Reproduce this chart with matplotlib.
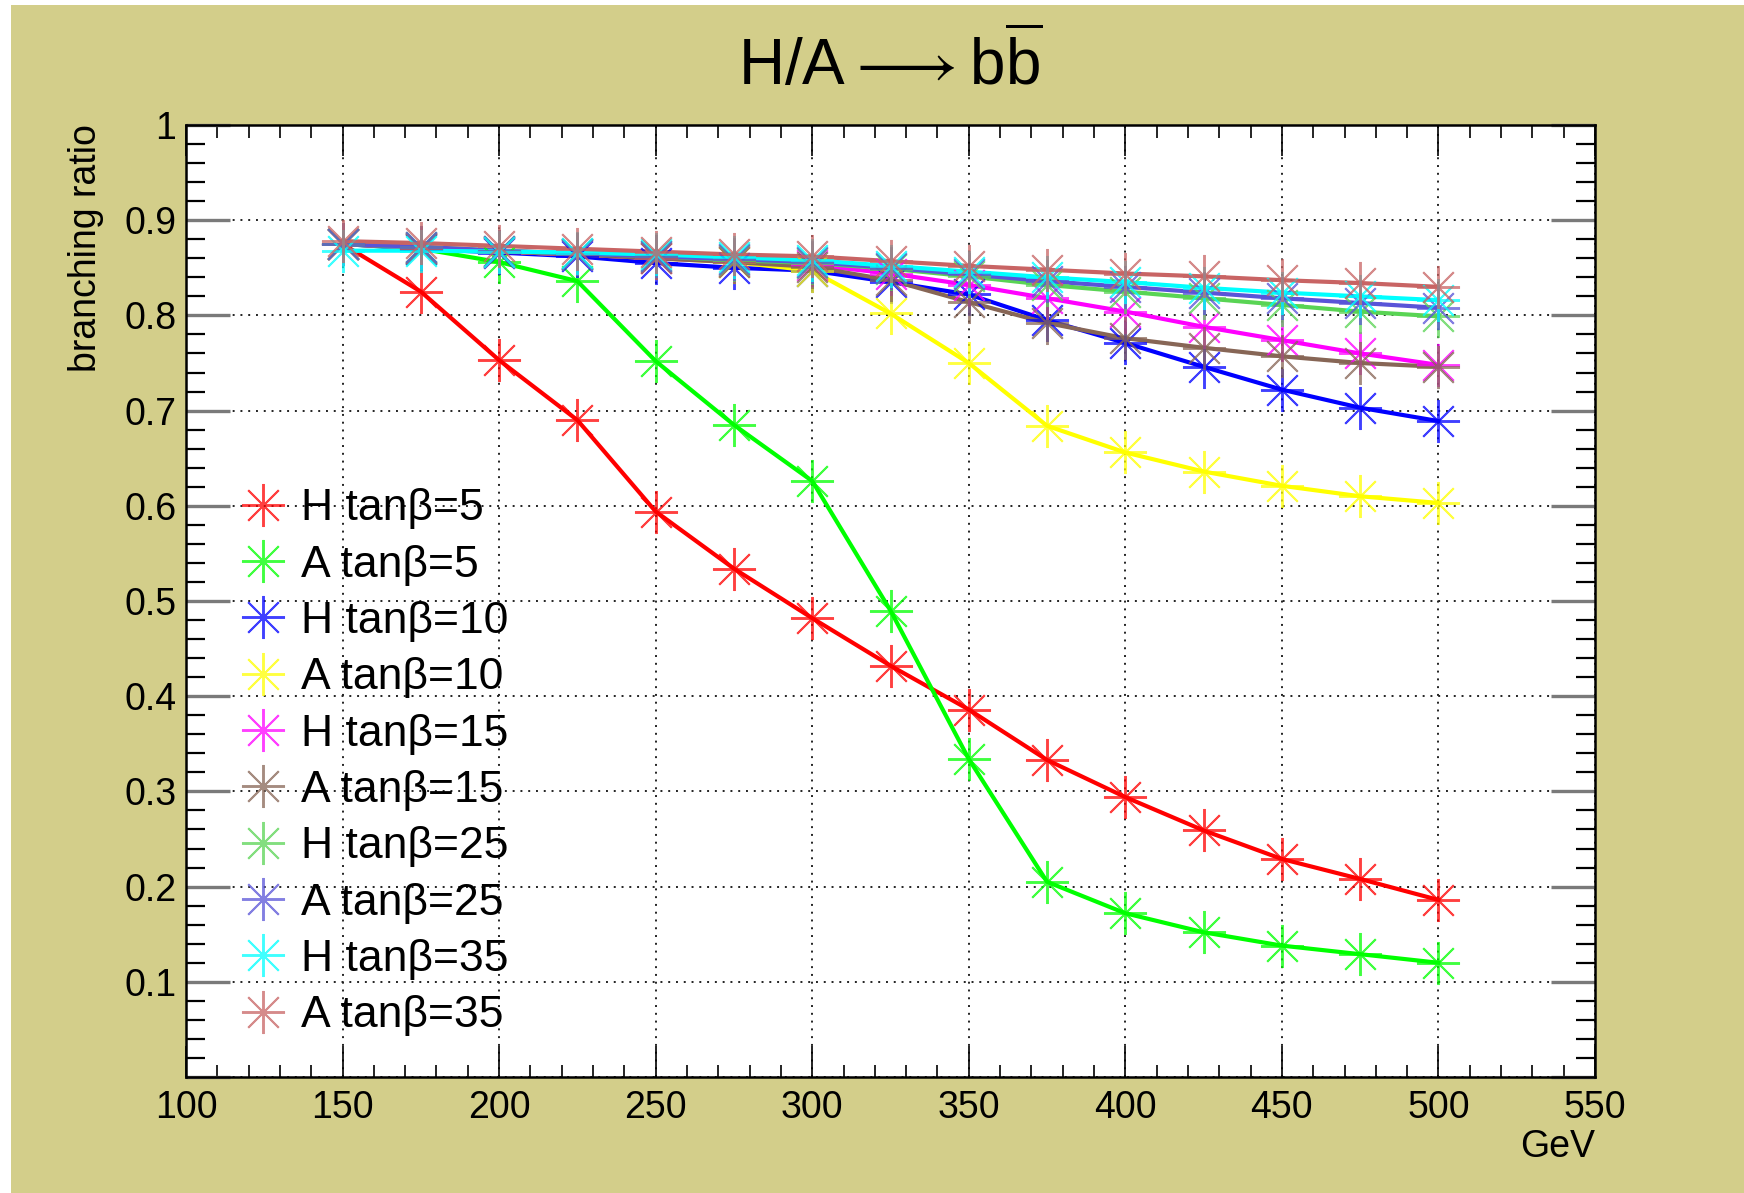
import numpy as np
import matplotlib
matplotlib.use("Agg")
import matplotlib.pyplot as plt
from matplotlib.lines import Line2D
from matplotlib.patches import Rectangle

plt.rcParams['font.family'] = ['Liberation Sans', 'DejaVu Sans']
plt.rcParams['mathtext.fontset'] = 'custom'
plt.rcParams['mathtext.rm'] = 'Liberation Sans'

# Higgs mass points (GeV)
mass = [150, 175, 200, 225, 250, 275, 300, 325, 350, 375, 400, 425, 450, 475, 500]

# branching ratios
br_H5  = [0.875, 0.825, 0.753, 0.690, 0.594, 0.534, 0.482, 0.432, 0.386, 0.333, 0.294, 0.259, 0.229, 0.208, 0.186]
br_A5  = [0.875, 0.870, 0.856, 0.836, 0.752, 0.685, 0.626, 0.490, 0.334, 0.205, 0.172, 0.152, 0.138, 0.129, 0.120]
br_H10 = [0.875, 0.870, 0.866, 0.862, 0.855, 0.850, 0.847, 0.835, 0.822, 0.795, 0.771, 0.746, 0.722, 0.703, 0.689]
br_A10 = [0.875, 0.871, 0.867, 0.864, 0.860, 0.856, 0.847, 0.802, 0.750, 0.684, 0.656, 0.636, 0.621, 0.610, 0.603]
br_H15 = [0.875, 0.871, 0.867, 0.864, 0.860, 0.857, 0.853, 0.844, 0.832, 0.818, 0.804, 0.788, 0.774, 0.760, 0.748]
br_A15 = [0.875, 0.871, 0.867, 0.864, 0.860, 0.856, 0.851, 0.837, 0.814, 0.792, 0.776, 0.766, 0.757, 0.750, 0.746]
br_H25 = [0.875, 0.872, 0.868, 0.865, 0.862, 0.858, 0.855, 0.849, 0.841, 0.832, 0.825, 0.818, 0.811, 0.804, 0.799]
br_A25 = [0.875, 0.872, 0.868, 0.865, 0.862, 0.859, 0.856, 0.850, 0.843, 0.836, 0.830, 0.824, 0.818, 0.813, 0.808]
br_H35 = [0.868, 0.868, 0.867, 0.866, 0.864, 0.861, 0.858, 0.852, 0.846, 0.840, 0.835, 0.829, 0.824, 0.820, 0.816]
br_A35 = [0.878, 0.876, 0.873, 0.870, 0.867, 0.864, 0.862, 0.857, 0.852, 0.848, 0.844, 0.841, 0.837, 0.834, 0.830]

labels = ['H tanβ=5', 'A tanβ=5', 'H tanβ=10', 'A tanβ=10', 'H tanβ=15',
          'A tanβ=15', 'H tanβ=25', 'A tanβ=25', 'H tanβ=35', 'A tanβ=35']
series = [br_H5, br_A5, br_H10, br_A10, br_H15, br_A15, br_H25, br_A25, br_H35, br_A35]
colors = ['#ff0000', '#00ff00', '#0000ff', '#ffff00', '#ff00ff',
          '#876656', '#59d454', '#5954d8', '#00ffff', '#c86464']

W, H = 1744, 1193
fig = plt.figure(figsize=(W / 100, H / 100), dpi=100, facecolor='white')
# olive canvas with a thin white strip on top and left
fig.patches.append(Rectangle((11 / W, 0), 1, 1 - 5 / H, transform=fig.transFigure,
                             facecolor='#d3ce8a', edgecolor='none', zorder=-10))

ax = fig.add_axes([186 / W, 1 - 1077 / H, (1595 - 186) / W, (1077 - 125) / H])
ax.set_facecolor('white')

star = (8, 2, 0)
for y, c in zip(series, colors):
    ax.plot(mass, y, color=c, lw=3, zorder=3)
    ax.plot(mass, y, ls='none', marker=star, ms=31, mec=c, mew=1.4, alpha=0.75, zorder=4)

ax.set_xlim(100, 550)
ax.set_ylim(0, 1)
ax.set_xticks(np.arange(100, 551, 50))
ax.set_xticks(np.arange(100, 551, 10), minor=True)
yt = np.round(np.arange(0, 1.01, 0.1), 1)
ax.set_yticks(yt)
ax.set_yticklabels([''] + ['%.1f' % v for v in yt[1:-1]] + ['1'])
ax.set_yticks(np.arange(0, 1.001, 0.02), minor=True)

ax.grid(True, which='major', color='#222222', ls=(0, (1, 3)), lw=1.4)
ax.tick_params(axis='both', which='both', direction='in', top=True, right=True,
               labelsize=27)
ax.tick_params(axis='x', which='major', length=22, width=1.2, color='black', pad=9)
ax.tick_params(axis='x', which='minor', length=9, width=1.2, color='black')
ax.tick_params(axis='y', which='major', length=32, width=2.4, color='#7a7a7a', pad=7)
ax.tick_params(axis='y', which='minor', length=14, width=1.6, color='black')
for s in ax.spines.values():
    s.set_linewidth(1.8)

fig.text(0.5 * (186 + 1595) / W, 1 - 64 / H,
         r'$\mathrm{H/A} \longrightarrow \mathrm{b}\overline{\mathrm{b}}$',
         ha='center', va='center', fontsize=46)
fig.text(86 / W, 1 - 124 / H, 'branching ratio', rotation=90, ha='center', va='top',
         fontsize=27)
fig.text(1595 / W, 1 - 1147 / H, 'GeV', ha='right', va='center', fontsize=27)

handles = [Line2D([], [], ls='none', marker=star, ms=31, mec=c, mew=1.4, alpha=0.75)
           for c in colors]
ax.legend(handles, labels, loc='upper left', bbox_to_anchor=(219 / W, 1 - 466 / H),
          bbox_transform=fig.transFigure, frameon=False, fontsize=32,
          labelspacing=0.345, handlelength=1.0, handletextpad=0.35, borderpad=0)

fig.savefig('out.png', dpi=100, facecolor=fig.get_facecolor())
